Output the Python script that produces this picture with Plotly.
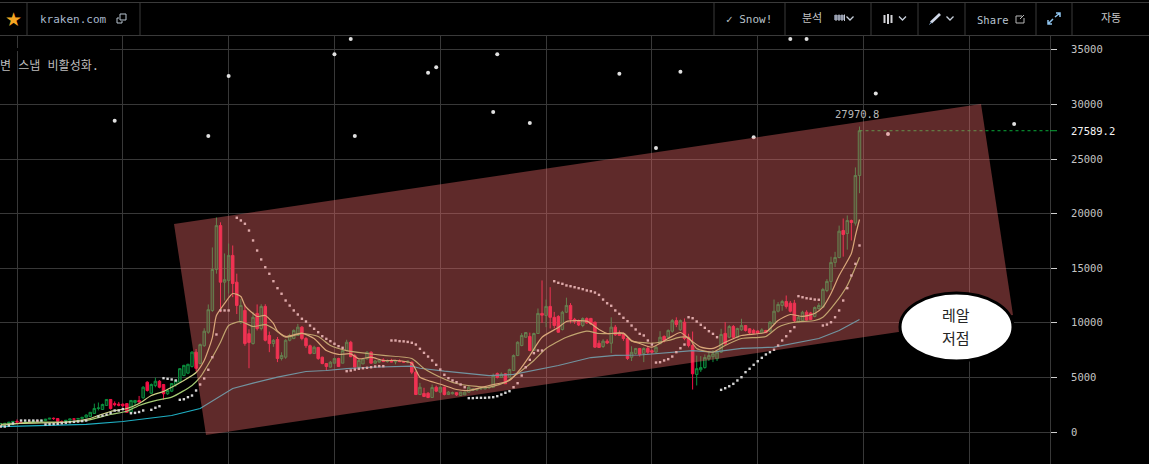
import pandas as pd
import plotly.graph_objects as go

W, H = 1149, 464
PLOT_R, PLOT_T = 1050, 36
MONO = "DejaVu Sans Mono, Noto Sans CJK KR"

opens = [760,780,790,890,970,905,820,920,915,1020,1000,1050,1180,1260,1230,970,960,1080,1200,1180,
 1240,1350,1420,1700,2150,2060,2430,2980,2600,2550,2550,2600,1810,2700,2880,3130,4560,3550,4250,4650,
 4350,3500,3740,4350,4560,5170,5390,6000,7310,6270,7900,9140,11130,14880,18900,13720,13880,16170,13720,10060,
 11130,9000,8100,10860,9470,11500,8840,8100,8470,6730,6850,8400,8560,8840,9600,8560,7900,7190,7740,6850,
 6270,5940,6300,6730,6300,7460,8220,7000,5940,6240,6700,7300,6300,6400,6600,6450,6500,6420,6500,6450,
 6400,6390,5480,3430,3530,3550,3160,4100,3650,4100,3430,3500,3600,3340,3400,3650,3800,3850,3950,3950,
 4050,4100,5350,5000,5330,5020,5630,7000,7920,8680,8750,7460,9020,10860,10670,11500,10500,10580,9390,10970,
 11590,10320,10200,9750,10390,10400,10060,8130,7830,8320,8130,9600,9050,9000,8560,6850,7190,7650,7190,7650,
 7450,7310,8080,8750,8680,9230,10200,9360,10060,8680,7920,5270,5700,5900,6700,6900,6700,7310,9030,8680,
 9660,8680,9360,9750,9450,9300,9250,9080,9300,9230,9930,11060,11590,11950,11800,11800,10060,10200,10970,10900,
 10580,11300,11430,12960,13790,15530,15980,18450,18180,19370,19130,23490]
highs = [790,800,930,1000,1150,920,930,930,1040,1060,1060,1200,1290,1330,1260,1060,1100,1220,1220,1250,
 1360,1620,1840,2600,2700,2600,3000,3000,2800,2750,2620,2650,2900,2900,3300,4200,4650,4450,4980,4750,
 4400,3950,4480,4780,5850,6150,6250,7400,7600,8100,9500,11680,16900,19650,19200,16350,17260,17080,14500,12200,
 11700,9400,11000,11680,11700,11700,9200,8500,8700,7300,8500,9000,9400,9900,9700,8700,8000,7900,7800,6900,
 6300,6500,6800,6800,7500,8450,8350,7150,6600,6800,7400,7400,6600,6700,6750,6650,6700,6600,6650,6500,
 6550,6450,5600,4500,4050,3650,4350,4250,4150,4150,3750,3700,3650,3680,3700,4200,4000,4000,4080,4100,
 4150,5350,5450,5450,5400,5800,7100,8300,9050,9150,9100,9100,11310,13880,12130,13260,11000,10700,11100,12300,
 11800,10450,10300,10500,10500,10450,10100,8400,8500,8500,10500,9800,9300,9100,8800,7850,7700,7700,7750,7900,
 7550,7900,9230,8850,9400,10350,10500,10300,10400,9000,9200,7000,6950,7100,7300,7500,7400,9450,10060,9800,
 9800,9550,10370,9800,9500,9450,9300,9500,9350,10150,12130,11900,12100,12500,12000,12100,10700,11100,11150,11000,
 11500,11800,13200,14000,16050,16500,18900,19550,19830,19450,24230,27970.8]
lows = [740,770,785,880,880,760,810,880,910,950,990,1050,1170,1100,950,900,930,1070,1150,1175,
 1230,1340,1400,1650,1980,2050,2400,2050,2350,2350,2300,1760,1800,2450,2700,3050,3700,3500,4100,4000,
 2950,3400,3650,4150,4500,5100,5300,5900,5550,6200,7800,9000,11000,14500,10970,12050,12680,12350,10800,9900,
 7900,5840,8000,9300,9300,8300,7310,7800,6400,6550,6700,8300,8500,8800,8400,7700,7100,7150,6600,6200,
 5640,5900,6250,5950,6300,7400,6850,5900,5880,6200,6650,6250,6250,6350,6400,6350,6400,6200,6400,6350,
 6300,5300,3400,3400,3200,3100,3120,3650,3600,3350,3400,3450,3300,3300,3380,3600,3750,3800,3850,3900,
 3950,4080,4900,4950,4400,5000,5600,6950,7850,8650,7400,7400,9000,10000,9600,9480,9500,9100,9300,10900,
 9950,9900,9700,9600,9900,9800,7700,7700,7700,8050,7220,8800,8800,8350,6600,6500,7100,6900,6400,7100,
 7150,7250,8300,8200,8600,9100,9600,9250,8400,7750,3890,4260,5500,5800,6500,6400,6500,7250,7950,8600,
 8500,8600,9250,9200,8950,8950,9000,9050,9050,9150,9880,10950,11100,11300,10950,10000,10000,10100,10200,10250,
 10500,11200,11350,12800,13000,15100,15900,16060,16700,17540,18900,21870]
closes = [780,790,890,970,905,820,920,915,1020,1000,1050,1180,1260,1230,970,960,1080,1200,1180,1240,
 1350,1550,1800,2150,2200,2520,2980,2150,2500,2450,2400,1800,2890,2890,2750,4100,3800,4350,4650,4100,
 3500,3800,4440,4720,5800,6100,6200,7310,5830,8000,9230,11200,14880,18900,13720,13950,16170,13600,11590,11590,
 8100,8200,10500,9470,11500,8400,8100,8400,6730,7000,8400,8840,9300,9600,8560,7900,7190,7760,6730,6270,
 6000,6390,6730,6000,7460,8220,6900,5940,6550,6700,7300,6300,6500,6600,6450,6500,6420,6500,6450,6400,
 6480,5480,3430,4100,3250,3160,4070,3740,4100,3430,3650,3600,3400,3650,3650,4100,3950,3950,4020,4050,
 4100,5180,5000,5300,4420,5720,7000,8220,8840,9110,7460,9020,10860,10700,11500,10500,9750,9140,10970,11590,
 10320,10150,9800,10390,10000,9900,7770,7740,8320,8150,9600,8900,8850,8560,6730,7300,7650,7100,7650,7300,
 7310,7760,8680,8380,9300,10200,9840,10200,8560,7920,5330,5800,5900,6820,7000,7160,7310,8930,8080,9660,
 8680,9480,9750,9300,9080,9050,9050,9350,9100,10060,11060,11680,11950,11500,11060,10200,10500,10970,10250,10300,
 11400,11590,13050,13790,15530,15980,18390,18090,19370,19190,23490,27589.2]

# fast and slow moving averages, long moving average: week offset from 2017-01-02, price
ma_a_week = [-4,0,6,11,15,18,20,23,27,30,33,36,38,41,44,46,48,49,51,53,55,56,58,59,61,63,64,66,70,73,76,79,82,84,87,90,93,97,99,101,105,108,111,116,121,124,126,129,133,135,140,143,145,149,151,153,156,160,163,165,168,171,174,178,184,187,190,193,196,198,200,202,205,206,207]
ma_a_price = [690,780,825,870,1050,1240,1510,1880,2150,2610,3340,3710,4100,4720,5450,6550,8650,10670,11770,12680,12410,11580,10850,10580,10670,9940,9230,8750,9050,8560,7460,7100,7160,6700,6850,6550,6550,6300,5020,4720,4260,3890,3800,4260,4720,5930,7000,8680,9570,10120,10150,9390,9020,9050,8380,8100,7770,8560,9110,8560,7770,7650,8220,8840,9140,10210,10760,10580,10850,11430,12680,14330,16350,17990,19460]
ma_b_week = [-4,4,12,17,23,27,30,34,38,43,45,48,50,52,55,58,61,63,66,70,74,77,81,86,90,97,100,104,108,113,116,120,124,127,130,135,140,143,146,149,151,153,156,160,163,165,167,171,174,178,184,187,191,196,198,201,204,206,207]
ma_b_price = [595,900,900,1050,1600,1900,2430,2880,3190,4260,5020,6850,8220,9750,10120,9660,9840,9480,8680,9020,8750,7920,7460,7190,7010,6730,5820,5020,4440,4170,4100,4560,5630,6550,7650,8680,9230,9020,9020,9020,8320,8200,8130,8380,8680,8650,7650,7310,7920,8560,8750,9600,10050,10210,10510,11770,13420,15090,16010]
ma_c_week = [-4,17,26,31,38,45,49,53,58,64,71,76,81,87,97,99,105,111,116,122,127,133,141,147,153,161,166,171,178,186,192,197,202,207]
ma_c_price = [500,690,960,1170,1510,2150,3070,3980,4470,5020,5540,5630,5810,5930,6030,5840,5570,5360,5170,5270,5630,6090,6820,7010,7050,7310,7460,7310,7650,7770,8220,8560,9290,10300]

psar_week = [-4,-3,-2,-1,1,2,3,4,5,6,7,8,9,10,11,12,13,14,15,16,17,20,21,22,23,24,25,26,28,29,30,31,33,34,35,
 36,37,38,39,40,41,42,43,44,45,46,47,48,49,50,51,52,
 54,55,56,57,58,59,60,61,62,63,64,65,66,67,68,69,70,71,72,73,74,75,76,77,78,79,80,
 81,82,83,84,85,86,87,88,89,90,
 92,93,94,95,96,97,98,99,100,101,102,103,104,105,106,107,108,109,110,
 111,112,113,114,115,116,117,118,119,120,121,122,123,124,125,126,127,128,129,
 132,133,134,135,136,137,138,139,140,141,142,143,144,145,146,147,148,149,150,151,152,153,154,155,156,
 157,158,159,160,161,162,163,164,
 165,166,167,168,169,170,171,172,
 173,174,175,176,177,178,179,180,181,182,183,184,185,186,187,188,189,190,191,
 192,193,194,195,196,197,
 198,199,200,201,202,203,204,205,206,207]
psar_price = [500,500,590,780,1050,1050,1050,1050,1050,1050,690,710,730,750,800,850,900,930,960,1000,1050,1420,1500,1600,1750,1970,1970,2100,1720,1750,1830,1970,2030,2220,2360,
 4930,4870,4810,4720,2950,3000,3190,3340,3800,4350,4900,5700,6850,8930,11130,11130,11130,
 19620,19370,19070,18450,17540,16620,15800,15090,14490,13810,13170,12660,12040,11580,11130,10760,10370,10120,9750,9450,9140,8770,8530,8320,8080,7860,7710,
 5570,5630,5720,5790,5840,5880,5930,6000,6030,6030,
 8380,8380,8320,8300,8250,8170,8010,7620,7250,6910,6550,6150,5720,5240,4930,4720,4560,4350,4100,
 3100,3100,3130,3130,3130,3160,3190,3280,3430,3590,3740,4100,4470,5170,5930,6610,7220,7460,7460,
 13810,13660,13570,13420,13350,13260,13170,13080,12960,12890,12770,12560,12130,11790,11560,11130,10820,10460,10150,9750,9390,8990,8840,8380,8010,
 6360,6390,6550,6670,6910,7310,7670,8010,
 10510,10420,10120,9820,9540,9230,8990,8680,
 3860,4010,4190,4410,4720,5020,5480,5790,6150,6480,6790,7100,7310,7530,7920,8380,8770,9230,9600,
 12440,12340,12250,12200,12130,12110,
 9750,9840,10050,10510,11130,12040,13170,14330,15400,17080]

star_week = [24,47,52,78,82,83,101,103,117,118,126,148,157,163,181,190,194,211,214,245]
star_price = [28500,27100,32600,34600,36000,27100,32900,33400,29300,34600,28300,32800,26000,33000,27000,36000,36000,31000,27300,28200]

price_ticks = [0,5000,10000,15000,20000,25000,30000,35000]
last_price = 27589.2
last_high = 27970.8

BASE = pd.Timestamp("2017-01-02")
def wk(w):
    return BASE + pd.Timedelta(days=7 * w)
def wks(ws):
    return [wk(w) for w in ws]

dates = [wk(i - 4) for i in range(len(closes))]
grid_dates = [wk(26 * n) for n in range(0, 10)]

PX_PER_WEEK = 4.07
PX_PER_UNIT = 54.6 / 5000
x_range = [wk(-17 / PX_PER_WEEK), wk((PLOT_R - 17) / PX_PER_WEEK)]
y_range = [(432 - H) / PX_PER_UNIT, (432 - PLOT_T) / PX_PER_UNIT]

def X(p): return p / W
def Y(p): return 1 - p / H

fig = go.Figure()
fig.add_trace(go.Candlestick(
    x=dates, open=opens, high=highs, low=lows, close=closes,
    increasing=dict(line=dict(color="#0c8f3e", width=1), fillcolor="rgba(12,110,50,0.45)"),
    decreasing=dict(line=dict(color="#f20f45", width=1), fillcolor="#f20f45"),
    whiskerwidth=0, hoverinfo="skip", showlegend=False))
fig.add_trace(go.Scatter(x=wks(ma_c_week), y=ma_c_price, mode="lines",
    line=dict(color="#1fb0c4", width=1.2), hoverinfo="skip", showlegend=False))
fig.add_trace(go.Scatter(x=wks(ma_b_week), y=ma_b_price, mode="lines",
    line=dict(color="#a4cc74", width=1.2, shape="spline", smoothing=0.6), hoverinfo="skip", showlegend=False))
fig.add_trace(go.Scatter(x=wks(ma_a_week), y=ma_a_price, mode="lines",
    line=dict(color="#ccd084", width=1.2, shape="spline", smoothing=0.6), hoverinfo="skip", showlegend=False))
fig.add_trace(go.Scatter(x=wks(psar_week), y=psar_price, mode="markers",
    marker=dict(symbol="square", size=2.4, color="#d4d4d4", line=dict(width=0)), hoverinfo="skip", showlegend=False))
fig.add_trace(go.Scatter(x=wks(star_week), y=star_price, mode="markers",
    marker=dict(symbol="circle", size=4, color="#e0e0e0", line=dict(width=0)), hoverinfo="skip", showlegend=False))
fig.add_trace(go.Scatter(x=[dates[-1], x_range[1]], y=[last_price, last_price], mode="lines",
    line=dict(color="#0aa838", width=1, dash="dot"), hoverinfo="skip", showlegend=False))

shapes = []
# highlighted channel
shapes.append(dict(type="path", xref="paper", yref="paper", layer="above", line=dict(width=0),
    fillcolor="rgba(238,105,105,0.4)",
    path=f"M {X(174)} {Y(224)} L {X(981)} {Y(104)} L {X(1013)} {Y(315)} L {X(206)} {Y(435)} Z"))
# callout
shapes.append(dict(type="circle", xref="paper", yref="paper", layer="above",
    x0=X(900), x1=X(1013), y0=Y(293), y1=Y(361), fillcolor="#ffffff", line=dict(color="#000000", width=3)))
# gap in the top gridline behind the tooltip
shapes.append(dict(type="rect", xref="paper", yref="paper", layer="above", x0=0, x1=X(110), y0=Y(51), y1=Y(48),
    fillcolor="#000000", line=dict(width=0)))
# green mark on the axis
shapes.append(dict(type="line", xref="paper", yref="y", layer="above", x0=X(PLOT_R), x1=X(1057),
    y0=last_price, y1=last_price, line=dict(color="#0aa838", width=1)))
# toolbar
shapes.append(dict(type="rect", xref="paper", yref="paper", layer="below", x0=0, x1=1, y0=Y(35), y1=1,
    fillcolor="#000000", line=dict(width=0)))
for yy in (2.5, 35.5):
    shapes.append(dict(type="line", xref="paper", yref="paper", layer="above", x0=0, x1=1, y0=Y(yy), y1=Y(yy),
        line=dict(color="#3a3a3a", width=1)))
for xx in (27, 140, 714, 785, 871, 918, 965, 1036, 1072):
    shapes.append(dict(type="line", xref="paper", yref="paper", layer="above", x0=X(xx), x1=X(xx), y0=Y(3), y1=Y(35),
        line=dict(color="#3a3a3a", width=1)))
# chevrons
for cx in (850, 902.5, 950):
    shapes.append(dict(type="path", xref="paper", yref="paper", layer="above", line=dict(color="#c8d0dc", width=1.3),
        path=f"M {X(cx-3.5)} {Y(16.5)} L {X(cx)} {Y(20)} L {X(cx+3.5)} {Y(16.5)}"))
# analysis icon
shapes.append(dict(type="rect", xref="paper", yref="paper", layer="above", x0=X(834), x1=X(845), y0=Y(20), y1=Y(15),
    fillcolor="#6e7688", line=dict(width=0)))
for cx in (836, 839, 842, 844.5):
    shapes.append(dict(type="line", xref="paper", yref="paper", layer="above", x0=X(cx), x1=X(cx), y0=Y(14.5), y1=Y(21),
        line=dict(color="#c4c8d4", width=1)))
# bars icon
for cx, y0, y1 in ((884.5, 15, 23), (888, 14, 24), (891.5, 15, 23)):
    shapes.append(dict(type="line", xref="paper", yref="paper", layer="above", x0=X(cx), x1=X(cx), y0=Y(y0), y1=Y(y1),
        line=dict(color="#d4d4d8", width=2)))
# pencil icon
shapes.append(dict(type="path", xref="paper", yref="paper", layer="above", line=dict(color="#d0d8e8", width=2.8),
    path=f"M {X(931)} {Y(22.5)} L {X(940)} {Y(14)}"))
shapes.append(dict(type="path", xref="paper", yref="paper", layer="above", line=dict(color="#8cb4dc", width=1),
    path=f"M {X(929.5)} {Y(24.5)} L {X(931.5)} {Y(22)}"))
# share icon
shapes.append(dict(type="path", xref="paper", yref="paper", layer="above", line=dict(color="#b8b8b8", width=1),
    path=f"M {X(1022)} {Y(16)} L {X(1016)} {Y(16)} L {X(1016)} {Y(23)} L {X(1024)} {Y(23)} L {X(1024)} {Y(18)} M {X(1020)} {Y(19)} L {X(1024)} {Y(15)}"))
# expand icon
shapes.append(dict(type="path", xref="paper", yref="paper", layer="above", line=dict(color="#8fc4ee", width=1.5),
    path=f"M {X(1048)} {Y(24)} L {X(1053)} {Y(19)} M {X(1055)} {Y(17)} L {X(1060)} {Y(13)} M {X(1056)} {Y(13)} L {X(1060)} {Y(13)} L {X(1060)} {Y(17)} M {X(1048)} {Y(20)} L {X(1048)} {Y(24)} L {X(1052)} {Y(24)}"))
# copy icon
shapes.append(dict(type="rect", xref="paper", yref="paper", layer="above", x0=X(120), x1=X(126), y0=Y(20), y1=Y(14),
    line=dict(color="#b8c4d0", width=1)))
shapes.append(dict(type="path", xref="paper", yref="paper", layer="above", line=dict(color="#b8c4d0", width=1),
    path=f"M {X(119)} {Y(18)} L {X(117)} {Y(18)} L {X(117)} {Y(23)} L {X(122)} {Y(23)} L {X(122)} {Y(21)}"))

def txt(text, x, y, size=10.5, color="#c8c8c8", family=MONO, anchor="left", **kw):
    return dict(text=text, x=X(x), y=Y(y), xref="paper", yref="paper", xanchor=anchor, yanchor="middle",
                showarrow=False, font=dict(family=family, size=size, color=color), **kw)

annotations = [
    txt("★", 13, 19, size=19, color="#f5a623", family="DejaVu Sans", anchor="center"),
    txt("kraken.com", 38, 19.5, size=11, color="#a8b8cc"),
    txt("✓ Snow!", 724, 19.5, size=11, color="#b8c0c8"),
    txt("분석", 800, 19, size=11, color="#c4c4c4"),
    txt("Share", 975, 19.5, size=10.5, color="#b8c4d0"),
    txt("자동", 1111, 19, size=11, color="#c8c8c8", anchor="center"),
    txt("변 스냅 비활성화.", -2, 66, size=12, color="#bdbdbd"),
    txt(f"{last_price}", 1069, 130.5, size=10.5, color="#f4f4f4", family="DejaVu Sans Mono"),
    dict(text=f"{last_high}", x=dates[-1], y=last_high, xref="x", yref="y", yshift=13, xshift=-2, xanchor="center",
         yanchor="middle", showarrow=False, font=dict(family=MONO, size=10.5, color="#b8b8b8")),
    txt("레알", 956, 314, size=15, color="#262626", family="Noto Sans CJK KR", anchor="center"),
    txt("저점", 956, 337, size=15, color="#262626", family="Noto Sans CJK KR", anchor="center"),
]

fig.update_layout(
    width=W, height=H, margin=dict(l=0, r=0, t=0, b=0),
    paper_bgcolor="#000000", plot_bgcolor="#000000", showlegend=False, boxgap=0.12,
    shapes=shapes, annotations=annotations,
    xaxis=dict(domain=[0, PLOT_R / W], range=x_range, type="date", rangeslider=dict(visible=False),
               tickvals=grid_dates, showticklabels=False, ticks="", showgrid=True,
               gridcolor="#383838", gridwidth=1, zeroline=False, showline=False),
    yaxis=dict(domain=[0, 1 - PLOT_T / H], range=y_range, side="right", tickvals=price_ticks,
               ticktext=[str(v) for v in price_ticks], ticks="outside", ticklen=6, tickwidth=1, tickcolor="#d0d0d0",
               tickfont=dict(family="DejaVu Sans Mono", size=10.5, color="#c4c4c4"), ticklabelstandoff=12,
               showgrid=True, gridcolor="#383838", gridwidth=1, zeroline=False,
               showline=True, linecolor="#383838", linewidth=1),
)

fig.write_html("out.html", config=dict(displayModeBar=False),
               post_script="document.body.style.margin='0';document.body.style.background='#000';document.body.style.overflow='hidden';")
